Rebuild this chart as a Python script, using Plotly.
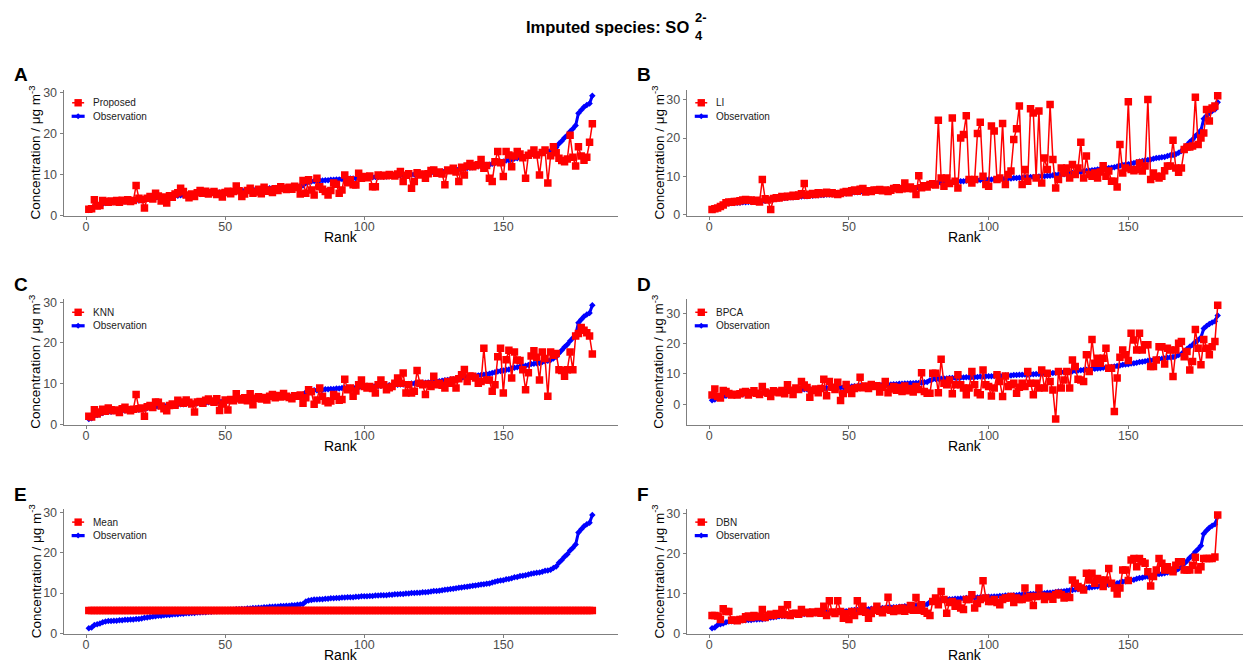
import plotly.graph_objects as go

# ---------------------------------------------------------------- data
rank = list(range(1, 183))

observation = [
    1.3, 1.5, 2.1, 2.3, 2.5, 2.8, 3.0, 3.1, 3.1, 3.2,
    3.2, 3.3, 3.3, 3.4, 3.4, 3.5, 3.5, 3.6, 3.6, 3.7,
    3.9, 4.0, 4.1, 4.2, 4.3, 4.4, 4.4, 4.5, 4.6, 4.6,
    4.7, 4.8, 4.8, 4.9, 4.9, 5.0, 5.0, 5.1, 5.1, 5.2,
    5.2, 5.3, 5.3, 5.4, 5.4, 5.5, 5.5, 5.6, 5.6, 5.7,
    5.8, 5.9, 5.9, 6.0, 6.0, 6.1, 6.1, 6.2, 6.2, 6.3,
    6.3, 6.4, 6.4, 6.5, 6.5, 6.6, 6.6, 6.7, 6.7, 6.8,
    6.8, 6.9, 6.9, 7.0, 7.0, 7.1, 7.2, 7.3, 7.9, 8.2,
    8.3, 8.4, 8.4, 8.5, 8.5, 8.6, 8.6, 8.7, 8.7, 8.8,
    8.8, 8.9, 8.9, 9.0, 9.0, 9.0, 9.1, 9.1, 9.2, 9.2,
    9.2, 9.3, 9.3, 9.4, 9.4, 9.5, 9.5, 9.5, 9.6, 9.6,
    9.7, 9.7, 9.8, 9.8, 9.9, 9.9, 10.0, 10.0, 10.1, 10.1,
    10.2, 10.2, 10.3, 10.4, 10.5, 10.5, 10.6, 10.7, 10.8, 10.9,
    11.0, 11.1, 11.2, 11.3, 11.4, 11.5, 11.6, 11.7, 11.8, 11.9,
    12.0, 12.1, 12.2, 12.3, 12.4, 12.6, 12.8, 13.0, 13.1, 13.2,
    13.4, 13.5, 13.7, 13.9, 14.0, 14.2, 14.3, 14.4, 14.6, 14.8,
    14.9, 15.0, 15.1, 15.3, 15.5, 15.6, 15.8, 16.2, 16.6, 17.5,
    18.2, 19.0, 19.6, 20.5, 21.2, 22.0, 25.0, 25.8, 26.5, 27.0,
    27.4, 29.3,
]

proposed = [
    1.5, 1.6, 3.8, 2.3, 2.4, 3.6, 3.4, 3.2, 3.5, 3.3,
    3.6, 3.2, 3.7, 3.5, 3.8, 3.4, 3.6, 7.3, 4.2, 3.9,
    1.8, 4.2, 4.6, 4.0, 5.4, 4.7, 3.5, 4.5, 3.0, 4.8,
    4.4, 5.2, 5.5, 6.6, 5.8, 5.0, 4.3, 5.2, 4.6, 5.5,
    6.1, 5.4, 5.9, 5.2, 5.6, 5.8, 5.1, 5.4, 4.5, 5.6,
    5.9, 5.3, 5.8, 7.2, 6.0, 4.6, 5.2, 6.1, 6.6, 5.4,
    5.7, 6.4, 5.3, 6.9, 5.9, 6.2, 5.6, 6.5, 6.1, 7.0,
    6.6, 6.3, 6.9, 6.4, 7.1, 6.8, 5.2, 8.5, 5.4, 8.7,
    6.2, 5.0, 9.1, 7.0, 6.4, 5.8, 5.0, 6.1, 7.9, 7.6,
    5.4, 6.2, 9.9, 8.0, 8.7, 7.5, 7.4, 10.3, 9.1, 9.5,
    9.2, 9.6, 7.0, 7.0, 9.9, 9.6, 9.8, 9.7, 10.0, 9.8,
    9.6, 10.1, 10.7, 8.3, 9.8, 10.2, 6.6, 8.3, 10.4, 9.9,
    10.1, 9.1, 10.2, 11.0, 11.1, 10.3, 10.6, 10.1, 7.5, 11.1,
    10.9, 11.5, 10.6, 8.3, 11.8, 9.9, 12.1, 12.7, 11.9, 12.2,
    12.4, 13.7, 11.5, 12.2, 9.1, 8.3, 13.1, 15.6, 12.9, 9.5,
    15.6, 14.8, 11.9, 14.5, 15.6, 15.0, 14.1, 9.1, 14.7, 15.2,
    16.0, 14.8, 9.9, 15.4, 16.0, 7.9, 14.6, 16.8, 15.3, 14.0,
    13.4, 13.1, 13.8, 19.6, 14.2, 12.1, 16.8, 14.5, 13.5, 14.2,
    17.9, 22.4,
]

li = [
    1.4, 1.6, 1.8, 2.2, 2.6, 3.2, 3.4, 3.3, 3.5, 3.5,
    3.7, 3.9, 4.0, 3.8, 3.9, 3.6, 3.8, 3.4, 9.2, 4.2,
    3.9, 1.4, 4.3, 4.5, 4.4, 4.8, 4.7, 4.9, 4.8, 5.1,
    4.9, 5.2, 5.5, 8.2, 5.1, 5.4, 5.6, 5.3, 5.8, 5.5,
    5.7, 5.9, 5.6, 5.8, 5.5, 5.3, 5.6, 5.9, 6.1, 5.8,
    6.3, 6.5, 6.2, 6.7, 6.9, 6.0, 6.3, 6.1, 6.5, 6.4,
    6.6, 6.3, 6.5, 6.1, 6.4, 6.9, 7.1, 6.6, 6.8, 8.3,
    6.9, 7.3, 6.8, 5.3, 10.2, 7.1, 7.6, 7.3, 7.9, 8.1,
    7.8, 24.6, 9.6, 7.5, 9.6, 8.2, 25.2, 8.8, 7.0, 20.0,
    20.9, 25.8, 9.2, 8.3, 9.2, 21.2, 24.1, 10.1, 7.9, 7.5,
    23.1, 21.8, 9.2, 9.6, 23.8, 7.9, 10.5, 11.4, 19.6, 22.4,
    28.3, 7.9, 11.8, 8.8, 27.6, 26.5, 9.6, 27.0, 8.3, 14.8,
    11.8, 28.7, 14.4, 7.0, 9.2, 12.2, 10.9, 12.2, 9.6, 13.1,
    10.5, 12.2, 18.9, 9.6, 15.3, 10.5, 10.1, 10.9, 9.6, 11.2,
    12.8, 10.1, 11.4, 8.8, 8.8, 7.3, 18.3, 10.9, 12.2, 29.4,
    11.8, 11.5, 11.8, 13.5, 11.4, 12.7, 30.0, 9.2, 10.9, 10.1,
    9.6, 10.1, 11.5, 12.7, 12.7, 19.4, 12.2, 11.1, 12.2, 17.0,
    17.7, 17.7, 17.9, 30.6, 18.3, 20.0, 21.3, 27.4, 24.4, 27.8,
    28.3, 31.0,
]

knn = [
    2.0, 1.8, 3.6, 2.5, 3.0, 3.7, 3.2, 4.0, 3.6, 3.3,
    3.5, 2.9, 3.8, 4.2, 3.6, 3.3, 3.7, 7.3, 3.8, 4.0,
    2.0, 4.3, 4.6, 4.1, 5.5, 5.4, 4.5, 3.8, 3.3, 4.6,
    5.0, 4.7, 5.9, 5.5, 5.2, 6.0, 5.4, 5.0, 3.0, 5.5,
    5.6, 5.2, 5.9, 6.2, 5.7, 5.4, 6.3, 3.4, 5.0, 6.0,
    3.5, 6.1, 5.8, 7.5, 6.3, 6.0, 6.5, 5.8, 7.5, 4.8,
    6.4, 6.8, 6.2, 6.6, 6.0, 6.9, 7.3, 6.5, 7.1, 6.7,
    7.6, 6.9, 6.6, 6.3, 7.0, 6.9, 7.2, 5.2, 6.5, 8.5,
    8.0, 4.9, 6.0, 8.9, 6.9, 5.7, 5.3, 5.7, 7.3, 6.9,
    5.9, 6.1, 11.1, 8.5, 8.9, 6.9, 8.2, 9.7, 10.9, 9.3,
    8.9, 9.3, 8.8, 7.7, 9.7, 10.9, 9.7, 8.5, 9.0, 9.3,
    10.1, 11.4, 10.1, 12.6, 7.7, 9.7, 7.7, 8.1, 13.2, 10.1,
    9.7, 7.3, 9.9, 9.3, 11.8, 9.7, 10.1, 9.6, 8.9, 10.5,
    10.1, 10.9, 8.9, 11.2, 12.2, 13.5, 10.5, 11.9, 11.8, 11.4,
    10.1, 10.5, 18.7, 10.9, 10.9, 8.1, 9.7, 16.6, 18.7, 7.7,
    15.9, 18.2, 11.4, 17.8, 15.8, 15.7, 13.4, 8.5, 12.7, 16.8,
    18.1, 16.5, 10.9, 17.8, 16.2, 6.9, 17.8, 17.0, 17.4, 13.4,
    13.2, 11.8, 13.4, 17.8, 13.4, 21.7, 22.3, 23.8, 23.1, 22.5,
    21.7, 17.3,
]

bpca = [
    3.0, 5.0, 2.5, 2.0, 4.5, 4.2, 3.5, 3.0, 3.3, 3.0,
    3.4, 3.9, 4.2, 3.0, 3.8, 4.4, 3.6, 3.2, 5.8, 4.0,
    3.6, 2.5, 4.4, 4.0, 3.8, 4.5, 3.4, 6.4, 4.6, 3.2,
    5.3, 4.8, 7.5, 6.3, 5.5, 2.3, 4.5, 5.0, 3.8, 5.2,
    8.2, 2.8, 7.5, 5.6, 4.8, 7.2, 1.2, 3.5, 6.5, 4.8,
    3.5, 5.2, 5.5, 8.9, 5.4, 6.0, 5.2, 6.5, 5.8, 6.1,
    4.0, 5.6, 7.5, 3.8, 5.0, 5.8, 4.6, 5.5, 4.2, 6.0,
    4.4, 5.2, 4.0, 5.8, 4.8,
    10.4, 4.2, 3.6, 3.6, 10.2, 10.2, 3.8, 14.8, 6.9, 6.4,
    8.0, 3.4, 6.4, 9.7, 6.4, 5.3, 3.1, 5.3, 10.8, 6.4,
    3.8, 3.1, 11.3, 6.4, 5.8, 2.7, 5.3, 9.7, 7.5, 2.5,
    9.3, 5.8, 6.4, 6.9, 3.6, 5.6, 6.9, 5.8, 10.8, 6.9,
    3.1, 6.9, 5.3, 11.3, 5.3, 10.2, 7.5, 4.7, -4.9, 10.8,
    5.3, 8.0, 10.8, 5.3,
    14.6, 12.4, 8.2, 8.0, 7.5, 16.3, 10.8, 21.4, 13.5, 15.2,
    13.5, 15.2, 18.5, 11.9, 11.9, -2.4, 8.6, 15.5, 17.9, 16.3,
    14.4, 23.4, 21.2, 17.9, 23.4, 17.9, 19.6, 19.6, 12.4, 12.4,
    14.6, 19.0, 19.0, 13.3, 18.5, 17.9, 9.1, 17.9, 20.1, 20.7,
    15.7, 17.4, 11.3, 14.1, 24.7, 18.5, 13.0, 21.4, 18.5, 16.3,
    19.0, 20.7, 32.7,
]

# mean imputation fills every gap with a single value
mean_value = 5.7
mean_imputed = [mean_value] * len(rank)

dbn = [
    4.5, 4.5, 4.4, 3.5, 6.2, 5.5, 5.5, 3.3, 3.4, 3.2,
    3.5, 3.6, 4.2, 4.4, 4.0, 4.5, 4.2, 4.3, 6.0, 4.0,
    4.6, 4.8, 4.5, 5.0, 4.8, 6.0, 4.7, 7.2, 4.5, 5.0,
    5.1, 4.8, 6.0, 5.2, 5.3, 5.0, 5.4, 5.2, 5.5, 5.1,
    6.8, 4.5, 8.2, 5.4, 5.0, 8.2, 5.5, 3.8, 5.0, 3.5,
    5.5, 4.5, 8.2, 5.5, 6.8, 5.3, 3.8, 5.0, 5.8, 6.8,
    5.6, 5.2, 6.0, 9.1, 5.8, 5.5, 6.2, 5.7, 6.4, 5.6,
    6.1, 7.0, 5.8, 9.0, 5.8,
    7.2, 5.6, 5.1, 4.5, 8.0, 8.9, 7.2, 10.5, 8.5, 5.1,
    7.8, 8.0, 6.8, 7.6, 6.4, 6.0, 8.5, 8.5, 9.7, 6.4,
    7.5, 8.5, 13.2, 8.9, 8.0, 8.0, 8.5, 7.8, 7.2, 8.5,
    8.9, 8.9, 9.3, 7.8, 8.9, 8.5, 8.5, 11.4, 8.9, 9.3,
    7.0, 9.3, 11.4, 9.4, 8.5, 9.3, 9.3, 8.6, 9.7, 10.1,
    9.7, 8.9, 9.3, 9.0, 13.4, 12.6, 11.8, 11.4, 10.9, 15.1,
    13.4, 15.1, 12.6, 13.8, 13.4, 11.8, 13.4, 16.3, 12.6, 11.4,
    9.9, 11.4, 15.9, 15.9, 13.3, 18.4, 18.8, 16.7, 18.8, 18.0,
    17.6, 15.5, 11.9, 14.3, 15.9, 18.8, 17.6, 15.9, 16.7, 15.9,
    15.5, 17.1, 18.0, 18.0, 15.9, 15.9, 15.9, 17.1, 19.1, 15.9,
    16.7, 18.8, 18.8, 18.8, 18.8, 19.2, 29.7,
]

panel_letters = ["A", "B", "C", "D", "E", "F"]
method_names = ["Proposed", "LI", "KNN", "BPCA", "Mean", "DBN"]
imputed_series = [proposed, li, knn, bpca, mean_imputed, dbn]

for s in [observation] + imputed_series:
    assert len(s) == len(rank), len(s)

# ---------------------------------------------------------------- layout
W, H = 1243, 667
FONT = "Liberation Sans, Arial, Helvetica, sans-serif"
RED = "#FF0000"
BLUE = "#0000FF"
AXIS_GREY = "#7F7F7F"
TICK_GREY = "#4D4D4D"

col_x = [(0.0512, 0.4968), (0.5525, 1.0)]
row_y = [(0.6766, 0.8651), (0.3633, 0.5510), (0.0495, 0.2364)]


def px_x(p):
    return p / W


def px_y(p):
    return 1 - p / H


def paper_text(text, x, y, size, xanchor="left", angle=0, color="black"):
    return dict(text=text, xref="paper", yref="paper", x=px_x(x), y=px_y(y),
                xanchor=xanchor, yanchor="middle", showarrow=False, textangle=angle,
                font=dict(size=size, color=color, family=FONT))


fig = go.Figure()
annotations = []
shapes = []
layout = dict(
    width=W,
    height=H,
    margin=dict(l=0, r=0, t=0, b=0),
    paper_bgcolor="white",
    plot_bgcolor="white",
    font=dict(family=FONT, color="black"),
    showlegend=False,
)

x_span = (rank[0], rank[-1])
x_pad = 0.05 * (x_span[1] - x_span[0])

for i, (letter, name, series) in enumerate(zip(panel_letters, method_names, imputed_series)):
    row, col = divmod(i, 2)
    n = i + 1
    xa = "x" if n == 1 else f"x{n}"
    ya = "y" if n == 1 else f"y{n}"

    fig.add_trace(go.Scatter(
        x=rank, y=observation, name="Observation",
        mode="lines+markers",
        line=dict(color=BLUE, width=3),
        marker=dict(symbol="diamond", size=5, color=BLUE),
        xaxis=xa, yaxis=ya,
    ))
    fig.add_trace(go.Scatter(
        x=rank, y=series, name=name,
        mode="lines+markers",
        line=dict(color=RED, width=1.5),
        marker=dict(symbol="square", size=7.5, color=RED),
        xaxis=xa, yaxis=ya,
    ))

    lo = min(min(observation), min(series))
    hi = max(max(observation), max(series))
    pad = 0.05 * (hi - lo)

    xd = col_x[col]
    yd = row_y[row]
    axis_common = dict(
        showline=True, linecolor=AXIS_GREY, linewidth=1.1,
        ticks="outside", ticklen=3, tickwidth=1, tickcolor=AXIS_GREY,
        showgrid=False, zeroline=False, automargin=False,
        tickfont=dict(size=12.5, color=TICK_GREY, family=FONT),
    )
    layout["xaxis" if n == 1 else f"xaxis{n}"] = dict(
        axis_common, domain=list(xd), anchor=ya,
        range=[x_span[0] - x_pad, x_span[1] + x_pad],
        tickvals=[0, 50, 100, 150], ticklabelstandoff=-4,
    )
    layout["yaxis" if n == 1 else f"yaxis{n}"] = dict(
        axis_common, domain=list(yd), anchor=xa,
        range=[lo - pad, hi + pad],
        tickvals=[0, 10, 20, 30],
    )

    left_px = xd[0] * W
    right_px = xd[1] * W
    top_px = (1 - yd[1]) * H
    bottom_px = (1 - yd[0]) * H

    # axis titles
    annotations.append(paper_text("Rank", (left_px + right_px) / 2, bottom_px + 21.5,
                                  14, xanchor="center"))
    annotations.append(paper_text("Concentration / μg m<sup>-3</sup>", left_px - 29,
                                  (top_px + bottom_px) / 2, 13.5, xanchor="center", angle=-90))

    # panel letter
    annotations.append(paper_text(f"<b>{letter}</b>", left_px - 52, top_px - 15, 19))

    # legend keys inside the panel's upper-left corner
    kx = left_px + 14.5
    ky_red = top_px + 12.8
    ky_blue = top_px + 26.3
    shapes.append(dict(type="line", xref="paper", yref="paper",
                       x0=px_x(kx - 6), x1=px_x(kx + 6), y0=px_y(ky_red), y1=px_y(ky_red),
                       line=dict(color=RED, width=1.5)))
    shapes.append(dict(type="rect", xref="paper", yref="paper",
                       x0=px_x(kx - 3.7), x1=px_x(kx + 3.7),
                       y0=px_y(ky_red + 3.7), y1=px_y(ky_red - 3.7),
                       fillcolor=RED, line=dict(width=0)))
    shapes.append(dict(type="line", xref="paper", yref="paper",
                       x0=px_x(kx - 6.5), x1=px_x(kx + 6.5), y0=px_y(ky_blue), y1=px_y(ky_blue),
                       line=dict(color=BLUE, width=3.2)))
    shapes.append(dict(type="path", xref="paper", yref="paper",
                       path=(f"M {px_x(kx - 3)} {px_y(ky_blue)} L {px_x(kx)} {px_y(ky_blue - 3)} "
                             f"L {px_x(kx + 3)} {px_y(ky_blue)} L {px_x(kx)} {px_y(ky_blue + 3)} Z"),
                       fillcolor=BLUE, line=dict(width=0)))
    annotations.append(paper_text(name, left_px + 27, ky_red, 10, color="#1A1A1A"))
    annotations.append(paper_text("Observation", left_px + 27, ky_blue, 10, color="#1A1A1A"))

# figure title: SO4 with stacked charge and subscript
annotations += [
    paper_text("<b>Imputed species: SO</b>", 691, 27.5, 16.5, xanchor="right"),
    paper_text("<b>2-</b>", 693, 17.5, 13),
    paper_text("<b>4</b>", 693, 36, 13),
]

layout["annotations"] = annotations
layout["shapes"] = shapes
fig.update_layout(**layout)
fig.write_html("out.html")
